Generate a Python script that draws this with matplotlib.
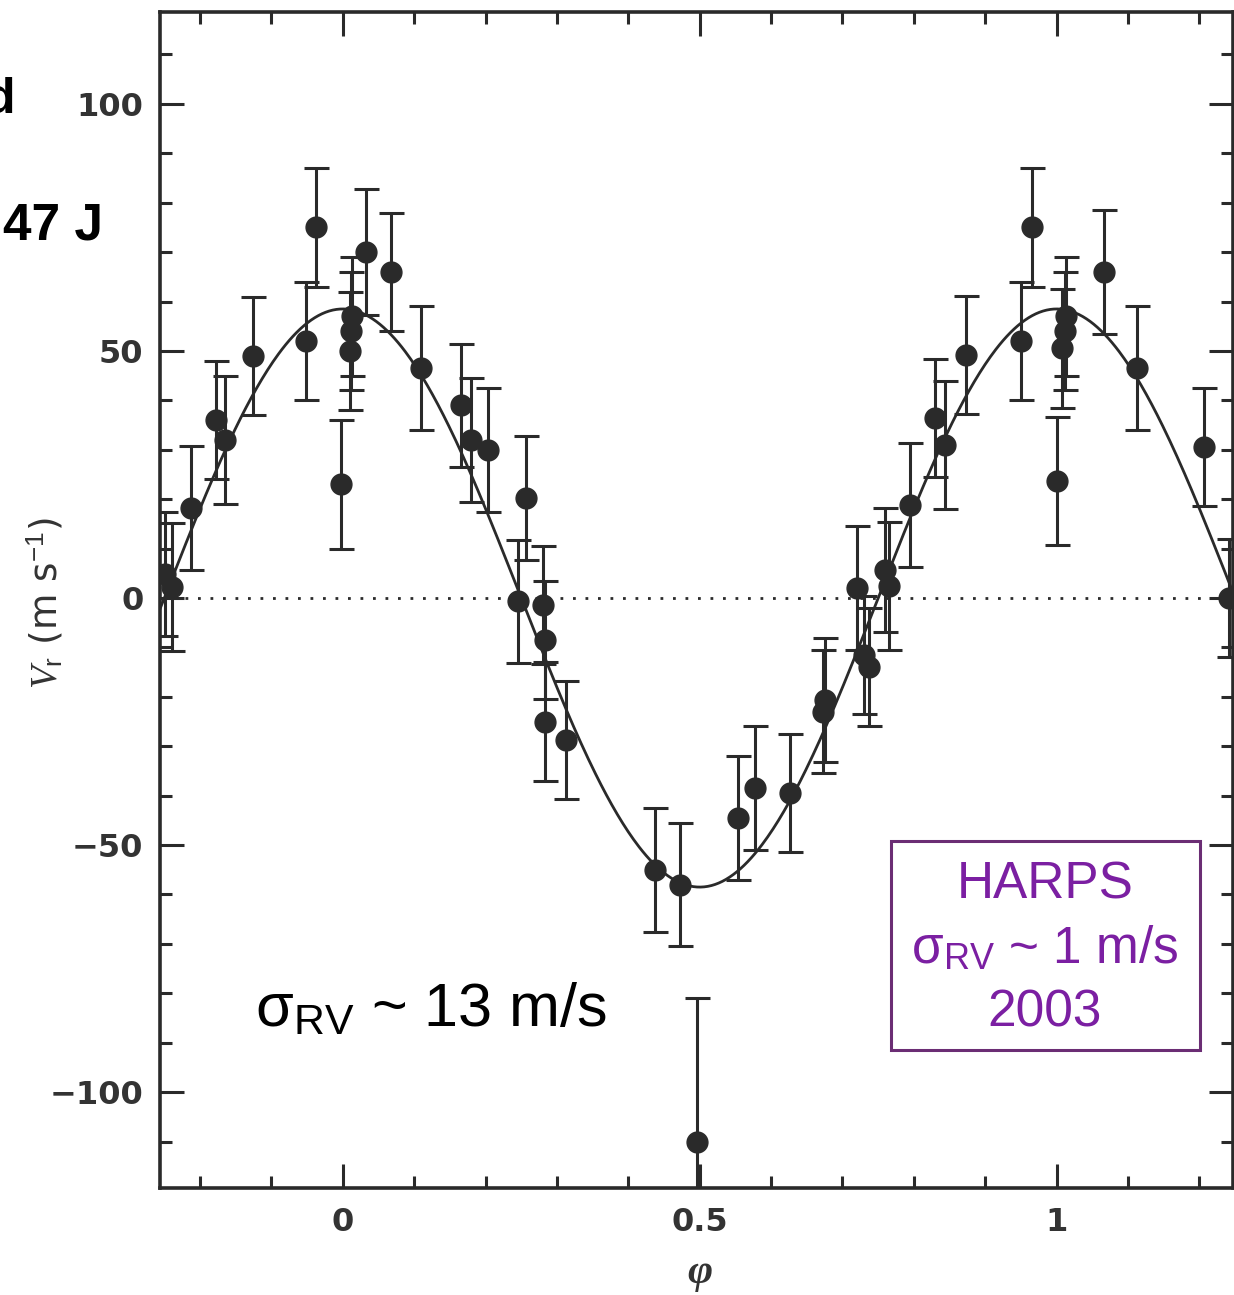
import numpy as np
import matplotlib
matplotlib.use("Agg")
import matplotlib.pyplot as plt
from matplotlib.patches import Rectangle

plt.rcParams['mathtext.fontset'] = 'custom'
plt.rcParams['mathtext.rm'] = 'Liberation Sans'
plt.rcParams['mathtext.it'] = 'Liberation Serif:italic'

# phase-folded radial velocities (phase, Vr in m/s, error in m/s)
phase = [-0.249, -0.239, -0.212, -0.177, -0.165, -0.126, -0.052, -0.037, -0.003,
         0.010, 0.012, 0.013, 0.033, 0.068, 0.110, 0.165, 0.180, 0.204,
         0.246, 0.257, 0.280, 0.283, 0.283, 0.313, 0.437, 0.472, 0.496,
         0.553, 0.577, 0.626, 0.672, 0.675, 0.721, 0.730, 0.737, 0.760, 0.765,
         0.794, 0.830, 0.843, 0.873, 0.950, 0.965, 1.000, 1.008, 1.012, 1.013,
         1.067, 1.112, 1.207, 1.242]
vr = [4.9, 2.2, 18.2, 36.0, 32.0, 49.0, 52.0, 75.0, 23.0,
      50.0, 54.0, 57.0, 70.0, 66.0, 46.6, 39.0, 32.0, 30.0,
      -0.7, 20.2, -1.4, -8.5, -25.0, -28.7, -55.0, -58.0, -110.0,
      -44.5, -38.5, -39.5, -23.0, -20.6, 2.0, -11.5, -14.0, 5.7, 2.4,
      18.8, 36.4, 31.0, 49.2, 52.0, 75.0, 23.7, 50.5, 54.0, 57.0,
      66.0, 46.5, 30.6, 0.0]
err = [12.5, 13.0, 12.5, 12.0, 13.0, 12.0, 12.0, 12.0, 13.0,
       12.0, 12.0, 12.0, 12.8, 12.0, 12.5, 12.5, 12.5, 12.5,
       12.5, 12.5, 12.0, 12.0, 12.0, 12.0, 12.5, 12.5, 29.0,
       12.5, 12.5, 12.0, 12.5, 12.5, 12.5, 12.0, 12.0, 12.5, 13.0,
       12.5, 12.0, 13.0, 12.0, 12.0, 12.0, 13.0, 12.0, 12.0, 12.0,
       12.5, 12.5, 12.0, 12.0]

# orbital fit: semi-amplitude and phase of maximum
K = 58.5
phi0 = 0.0

ink = '#2a2a2a'
W, H = 1234, 1295

fig = plt.figure(figsize=(W / 100, H / 100), dpi=100)
ax = fig.add_axes([160 / W, (H - 1188) / H, 1073 / W, 1176 / H])

ph = np.linspace(-0.26, 1.26, 600)
ax.plot(ph, K * np.cos(2 * np.pi * (ph - phi0)), color=ink, lw=2.0, zorder=2)
ax.axhline(0, color=ink, lw=2.0, ls=(0, (1, 3.5)), zorder=1)

ax.errorbar(phase, vr, yerr=err, fmt='o', color=ink, ms=15, capsize=9,
            elinewidth=2.2, capthick=2.2, zorder=3)

ax.set_xlim(-0.256, 1.247)
ax.set_ylim(-119.4, 118.6)
ax.set_xticks([0, 0.5, 1])
ax.set_xticklabels(['0', '0.5', '1'])
ax.set_xticks(np.arange(-0.2, 1.25, 0.1), minor=True)
ax.set_yticks([-100, -50, 0, 50, 100])
ax.set_yticks(np.arange(-110, 120, 10), minor=True)
ax.tick_params(which='both', direction='in', top=True, right=True, width=2.2, color=ink)
ax.tick_params(which='major', length=17, labelsize=23, labelcolor='#333333')
ax.tick_params(which='minor', length=8.5)
ax.tick_params(axis='y', which='major', pad=12)
ax.tick_params(axis='x', which='major', pad=14)
for lab in ax.get_xticklabels() + ax.get_yticklabels():
    lab.set_fontweight('bold')
for s in ax.spines.values():
    s.set_linewidth(2.6)
    s.set_color(ink)

# axis titles
fig.text(45 / W, (H - 603) / H, r'$V_{\rm r}$ (m s$^{-1}$)', fontsize=27, color='#333333',
         rotation=90, ha='center', va='center')
fig.text(700 / W, (H - 1273) / H, 'φ', fontsize=31, color='#333333',
         family='Liberation Serif', style='italic', fontweight='bold',
         ha='center', va='center')

# annotations
fig.text(255 / W, (H - 1027) / H, r'σ$_{\rm RV}$ ~ 13 m/s', fontsize=44,
         family='Liberation Sans', ha='left', va='baseline', color='black')

fig.text(-15 / W, (H - 113) / H, 'd', fontsize=36, fontweight='bold',
         family='Liberation Sans', ha='left', va='baseline')
fig.text(3 / W, (H - 240) / H, '47 J', fontsize=37, fontweight='bold',
         family='Liberation Sans', ha='left', va='baseline')

purple = '#7b1fa2'
box = Rectangle((891 / W, (H - 1050) / H), 309 / W, 209 / H,
                transform=fig.transFigure, facecolor='white', edgecolor='#6b2d74',
                lw=2.2, zorder=5)
fig.patches.append(box)
cx = 1045 / W
fig.text(cx, (H - 885) / H, 'HARPS', fontsize=37, color=purple,
         family='Liberation Sans', ha='center', va='center', zorder=6)
fig.text(cx, (H - 950) / H, r'σ$_{\rm RV}$ ~ 1 m/s', fontsize=37, color=purple,
         family='Liberation Sans', ha='center', va='center', zorder=6)
fig.text(cx, (H - 1013) / H, '2003', fontsize=37, color=purple,
         family='Liberation Sans', ha='center', va='center', zorder=6)

fig.savefig('out.png', dpi=100, facecolor='white')
